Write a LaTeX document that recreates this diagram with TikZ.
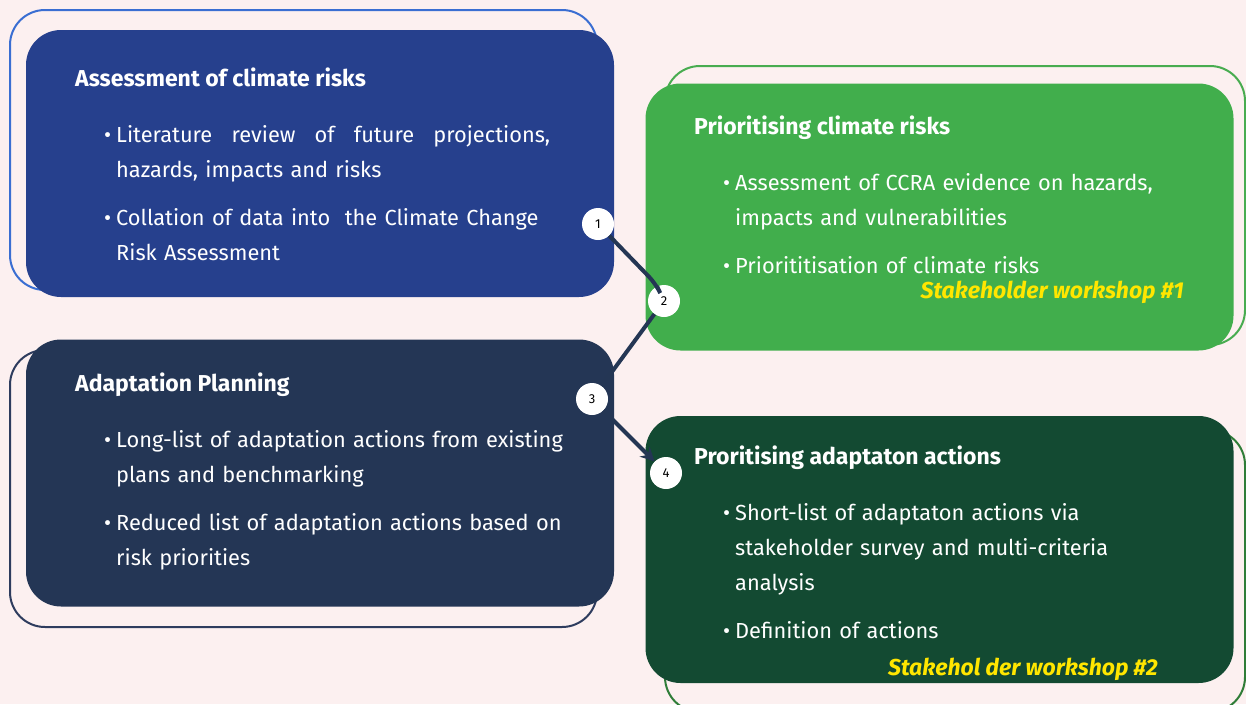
\documentclass[tikz,border=0pt]{standalone}
\usepackage{fontspec}
\setmainfont{Fira Sans}
\usetikzlibrary{arrows.meta,positioning}
\definecolor{bgc}{HTML}{FCF0F0}
\definecolor{fillA}{HTML}{26408D}
\definecolor{fillB}{HTML}{41AE4C}
\definecolor{fillC}{HTML}{243655}
\definecolor{fillD}{HTML}{134A32}
\definecolor{lineA}{HTML}{3A6ED2}
\definecolor{lineB}{HTML}{48AC50}
\definecolor{lineC}{HTML}{2E3C5E}
\definecolor{lineD}{HTML}{2F7D38}
\definecolor{linkc}{HTML}{243654}
\definecolor{wsyellow}{HTML}{FFE600}
\newcommand{\bodyfont}{\fontsize{21.8}{35}\selectfont}
\newcommand{\bitem}[1]{\hangindent=12pt\hangafter=1\noindent\makebox[12pt][l]{\textbullet}#1\par\vspace{13pt}}
\tikzstyle{panel}=[rounded corners=35, minimum width=588, minimum height=267, inner sep=0pt]
\tikzstyle{frame}=[line width=2, rounded corners=35]
\tikzstyle{heading}=[anchor=base west, inner sep=0pt, text=white, font=\bfseries\fontsize{23}{27}\selectfont]
\tikzstyle{items}=[anchor=base west, inner sep=0pt, text=white, text width=480, align=left, font=\bodyfont]
\tikzstyle{workshop}=[anchor=base east, inner sep=0pt, text=wsyellow, font=\bfseries\itshape\fontsize{23}{27}\selectfont]
\tikzstyle{num}=[circle, fill=white, minimum size=32, inner sep=0pt, font=\fontsize{13}{15}\selectfont]
\tikzstyle{link}=[draw, line width=4, linkc]

\begin{document}
\begin{tikzpicture}[x=1pt, y=-1pt]
    \clip (0,0) rectangle (1246,704);
    \fill[bgc] (0,0) rectangle (1246,704);
    % outlines behind the panels
    \draw[frame, lineA] (10,10) rectangle (597,290);
    \draw[frame, lineB] (665,66) rectangle (1245,345);
    \draw[frame, lineC] (10,350) rectangle (597,627);
    \draw[frame, lineD] (665,430) rectangle (1245,712);
    \foreach \pos/\name/\col in {{(320,163.5)/assess/fillA}, {(939.5,217)/prio/fillB},
    {(320,473)/plan/fillC}, {(939.5,549.5)/actions/fillD}}
        \node[panel, fill=\col] (\name) at \pos {};
    \foreach \pos/\name/\txt in {{(75,86)/hassess/Assessment of climate risks},
    {(694,134)/hprio/Prioritising climate risks}, {(75,391)/hplan/Adaptation Planning},
    {(694,464)/hactions/Proritising adaptaton actions}}
        \node[heading] (\name) at \pos {\txt};
    % bullet lists
    \node[items] (lassess) at (104,142) {%
        \bitem{\makebox[434pt][l]{Literature\hfill review\hfill of\hfill future\hfill projections,}\newline hazards, impacts and risks}%
        \bitem{Collation of data into \ the Climate Change\newline Risk Assessment}};
    \node[items] (lprio) at (723,190) {%
        \bitem{Assessment of CCRA evidence on hazards,\newline impacts and vulnerabilities}%
        \bitem{Priorititisation of climate risks}};
    \node[items] (lplan) at (104,447) {%
        \bitem{Long-list of adaptation actions from existing\newline plans and benchmarking}%
        \bitem{Reduced list of adaptation actions based on\newline risk priorities}};
    \node[items] (lactions) at (723,520) {%
        \bitem{Short-list of adaptaton actions via\newline stakeholder survey and multi-criteria\newline analysis}%
        \bitem{Definition of actions}};
    \node[workshop] (ws1) at (1184,298) {Stakeholder workshop \#1};
    \node[workshop] (ws2) at (1158,675) {Stakehol der workshop \#2};
    % steps
    \foreach \pos/\num in {(598,224)/1, (664,301)/2, (592,399)/3, (666,473)/4}
        \node[num] (n\num) at \pos {\num};
    \coordinate (kink) at (656,284);
    \path[link, rounded corners=10] (n1) -- (kink) -- (n2);
    \path[link] (n2) -- (n3);
    \path[link, -{Stealth[length=14, width=14]}] (n3) -- (n4);
\end{tikzpicture}
\end{document}
